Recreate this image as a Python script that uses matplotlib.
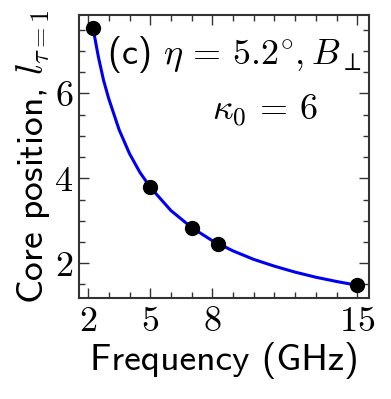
import matplotlib
matplotlib.use('Agg')
import matplotlib.pyplot as plt
from matplotlib.ticker import MultipleLocator, FixedLocator

# measured points
freq = [2.24, 5.0, 7.0, 8.28, 15.0]
core = [7.53, 3.79, 2.83, 2.45, 1.48]

# curve
curve_f = [2.24, 2.5, 2.75, 3.0, 3.5, 4.0, 4.5, 5.0, 6.0, 7.0, 8.0, 9.0,
           10.0, 11.0, 12.0, 13.0, 14.0, 15.0]
curve_l = [7.53, 6.85, 6.30, 5.87, 5.14, 4.58, 4.14, 3.79, 3.24, 2.84, 2.53,
           2.29, 2.09, 1.93, 1.79, 1.67, 1.57, 1.48]

xticks = [2, 5, 8, 15]
yticks = [2, 4, 6]

plt.rcParams['mathtext.fontset'] = 'cm'
plt.rcParams['font.family'] = ['cmss10', 'DejaVu Sans']
plt.rcParams['axes.unicode_minus'] = False

fig = plt.figure(figsize=(3.91, 3.99), dpi=100)
ax = fig.add_axes([0.202, 0.253, 0.742, 0.709])

ax.plot(curve_f, curve_l, color='#0000f0', lw=2.2, zorder=2)
ax.plot(freq, core, 'o', color='black', ms=10, zorder=3)

ax.set_xlim(1.56, 15.57)
ax.set_ylim(1.18, 7.84)
ax.xaxis.set_major_locator(FixedLocator(xticks))
ax.xaxis.set_minor_locator(MultipleLocator(1))
ax.yaxis.set_major_locator(FixedLocator(yticks))
ax.yaxis.set_minor_locator(MultipleLocator(0.5))
ax.set_xticklabels(['$%d$' % t for t in xticks])
ax.set_yticklabels(['$%d$' % t for t in yticks])
ax.tick_params(which='both', direction='in', top=True, right=True,
               color='#333333', labelsize=26)
ax.tick_params(which='major', length=7, width=1)
ax.tick_params(which='minor', length=4, width=1)
ax.tick_params(axis='x', pad=5)
ax.tick_params(axis='y', pad=4)
for s in ax.spines.values():
    s.set_linewidth(1.5)
    s.set_color('#333333')

ax.set_xlabel('Frequency (GHz)', fontsize=27, labelpad=3)
ax.set_ylabel(r'Core position, $l_{\tau=1}$', fontsize=27, labelpad=2)

ax.text(0.095, 0.86, r'(c) $\eta\,=\,5.2^{\circ}, B_{\perp}$', transform=ax.transAxes,
        fontsize=26, ha='left', va='center')
ax.text(0.64, 0.66, r'$\kappa_0\,=\,6$', transform=ax.transAxes,
        fontsize=26, ha='center', va='center')

fig.savefig('out.png', dpi=100)
